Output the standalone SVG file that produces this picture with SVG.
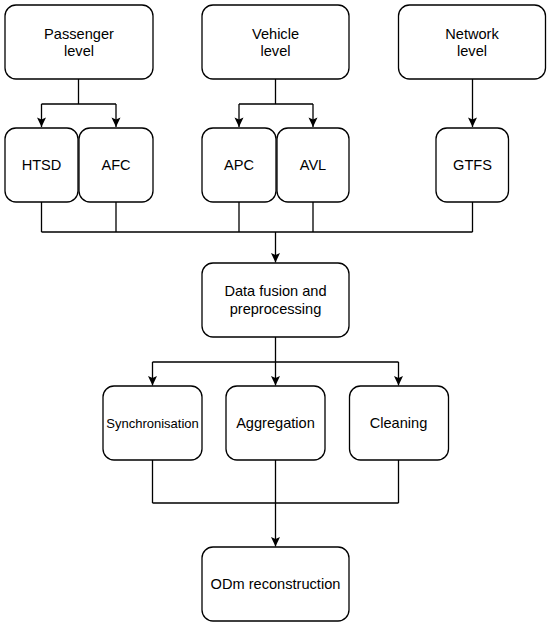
<svg xmlns="http://www.w3.org/2000/svg" width="550" height="625" viewBox="0 0 550 625">
<style>
.box{fill:#fff;stroke:#000;stroke-width:1.3}
.t{font-family:"Liberation Sans",Arial,sans-serif;font-size:14.6px;text-anchor:middle;fill:#000}
.s{font-size:13px}
.c{fill:none;stroke:#000;stroke-width:1.3}
</style>
<defs>
<marker id="arr" markerUnits="userSpaceOnUse" viewBox="-10 -5 11 10" refX="0" refY="0" markerWidth="11" markerHeight="10" orient="auto">
<path d="M0,0 L-9.5,-4.5 L-7.5,0 L-9.5,4.5 Z" fill="#000"/>
</marker>
</defs>
<rect width="550" height="625" fill="#fff"/>
<g id="connectors">
<path class="c" d="M78.5,79 V104 M41.5,104 H116"/>
<path class="c" d="M41.5,104 V127" marker-end="url(#arr)"/>
<path class="c" d="M116,104 V127" marker-end="url(#arr)"/>
<path class="c" d="M275.5,79 V104 M239,104 H313"/>
<path class="c" d="M239,104 V127" marker-end="url(#arr)"/>
<path class="c" d="M313,104 V127" marker-end="url(#arr)"/>
<path class="c" d="M472.5,79 V127" marker-end="url(#arr)"/>
<path class="c" d="M41.5,202 V232 M116,202 V232 M239,202 V232 M313,202 V232 M472.5,202 V232 M41.5,232 H472.5"/>
<path class="c" d="M275.5,232 V262.5" marker-end="url(#arr)"/>
<path class="c" d="M275.5,337 V362 M152.5,362 H398.5"/>
<path class="c" d="M152.5,362 V385.5" marker-end="url(#arr)"/>
<path class="c" d="M275.5,362 V385.5" marker-end="url(#arr)"/>
<path class="c" d="M398.5,362 V385.5" marker-end="url(#arr)"/>
<path class="c" d="M152.5,460 V503 M275.5,460 V503 M398.5,460 V503 M152.5,503 H398.5"/>
<path class="c" d="M275.5,503 V546.5" marker-end="url(#arr)"/>
</g>
<g id="passenger"><rect class="box" x="5" y="5" width="148" height="74" rx="11"/><text class="t" x="79" y="38.5">Passenger</text><text class="t" x="79" y="56">level</text></g>
<g id="vehicle"><rect class="box" x="202" y="5" width="147" height="74" rx="11"/><text class="t" x="275.5" y="38.5">Vehicle</text><text class="t" x="275.5" y="56">level</text></g>
<g id="network"><rect class="box" x="398.5" y="5" width="147" height="74" rx="11"/><text class="t" x="472" y="38.5">Network</text><text class="t" x="472" y="56">level</text></g>
<g id="htsd"><rect class="box" x="5" y="128" width="73" height="74" rx="11"/><text class="t" x="41.5" y="170">HTSD</text></g>
<g id="afc"><rect class="box" x="79" y="128" width="74" height="74" rx="11"/><text class="t" x="116" y="170">AFC</text></g>
<g id="apc"><rect class="box" x="202" y="128" width="74" height="74" rx="11"/><text class="t" x="239" y="170">APC</text></g>
<g id="avl"><rect class="box" x="277" y="128" width="72" height="74" rx="11"/><text class="t" x="313" y="170">AVL</text></g>
<g id="gtfs"><rect class="box" x="436" y="128" width="72.5" height="74" rx="11"/><text class="t" x="472.5" y="170">GTFS</text></g>
<g id="fusion"><rect class="box" x="202" y="263" width="147" height="74" rx="11"/><text class="t" x="275.5" y="296.4">Data fusion and</text><text class="t" x="275.5" y="313.7">preprocessing</text></g>
<g id="sync"><rect class="box" x="103" y="386" width="99" height="74" rx="11"/><text class="t s" x="152.5" y="427.5">Synchronisation</text></g>
<g id="aggregation"><rect class="box" x="226" y="386" width="99" height="74" rx="11"/><text class="t" x="275.5" y="428">Aggregation</text></g>
<g id="cleaning"><rect class="box" x="349.5" y="386" width="99" height="74" rx="11"/><text class="t" x="398.5" y="428">Cleaning</text></g>
<g id="odm"><rect class="box" x="202" y="547" width="147" height="74" rx="11"/><text class="t" x="275.5" y="589">ODm reconstruction</text></g>
</svg>
